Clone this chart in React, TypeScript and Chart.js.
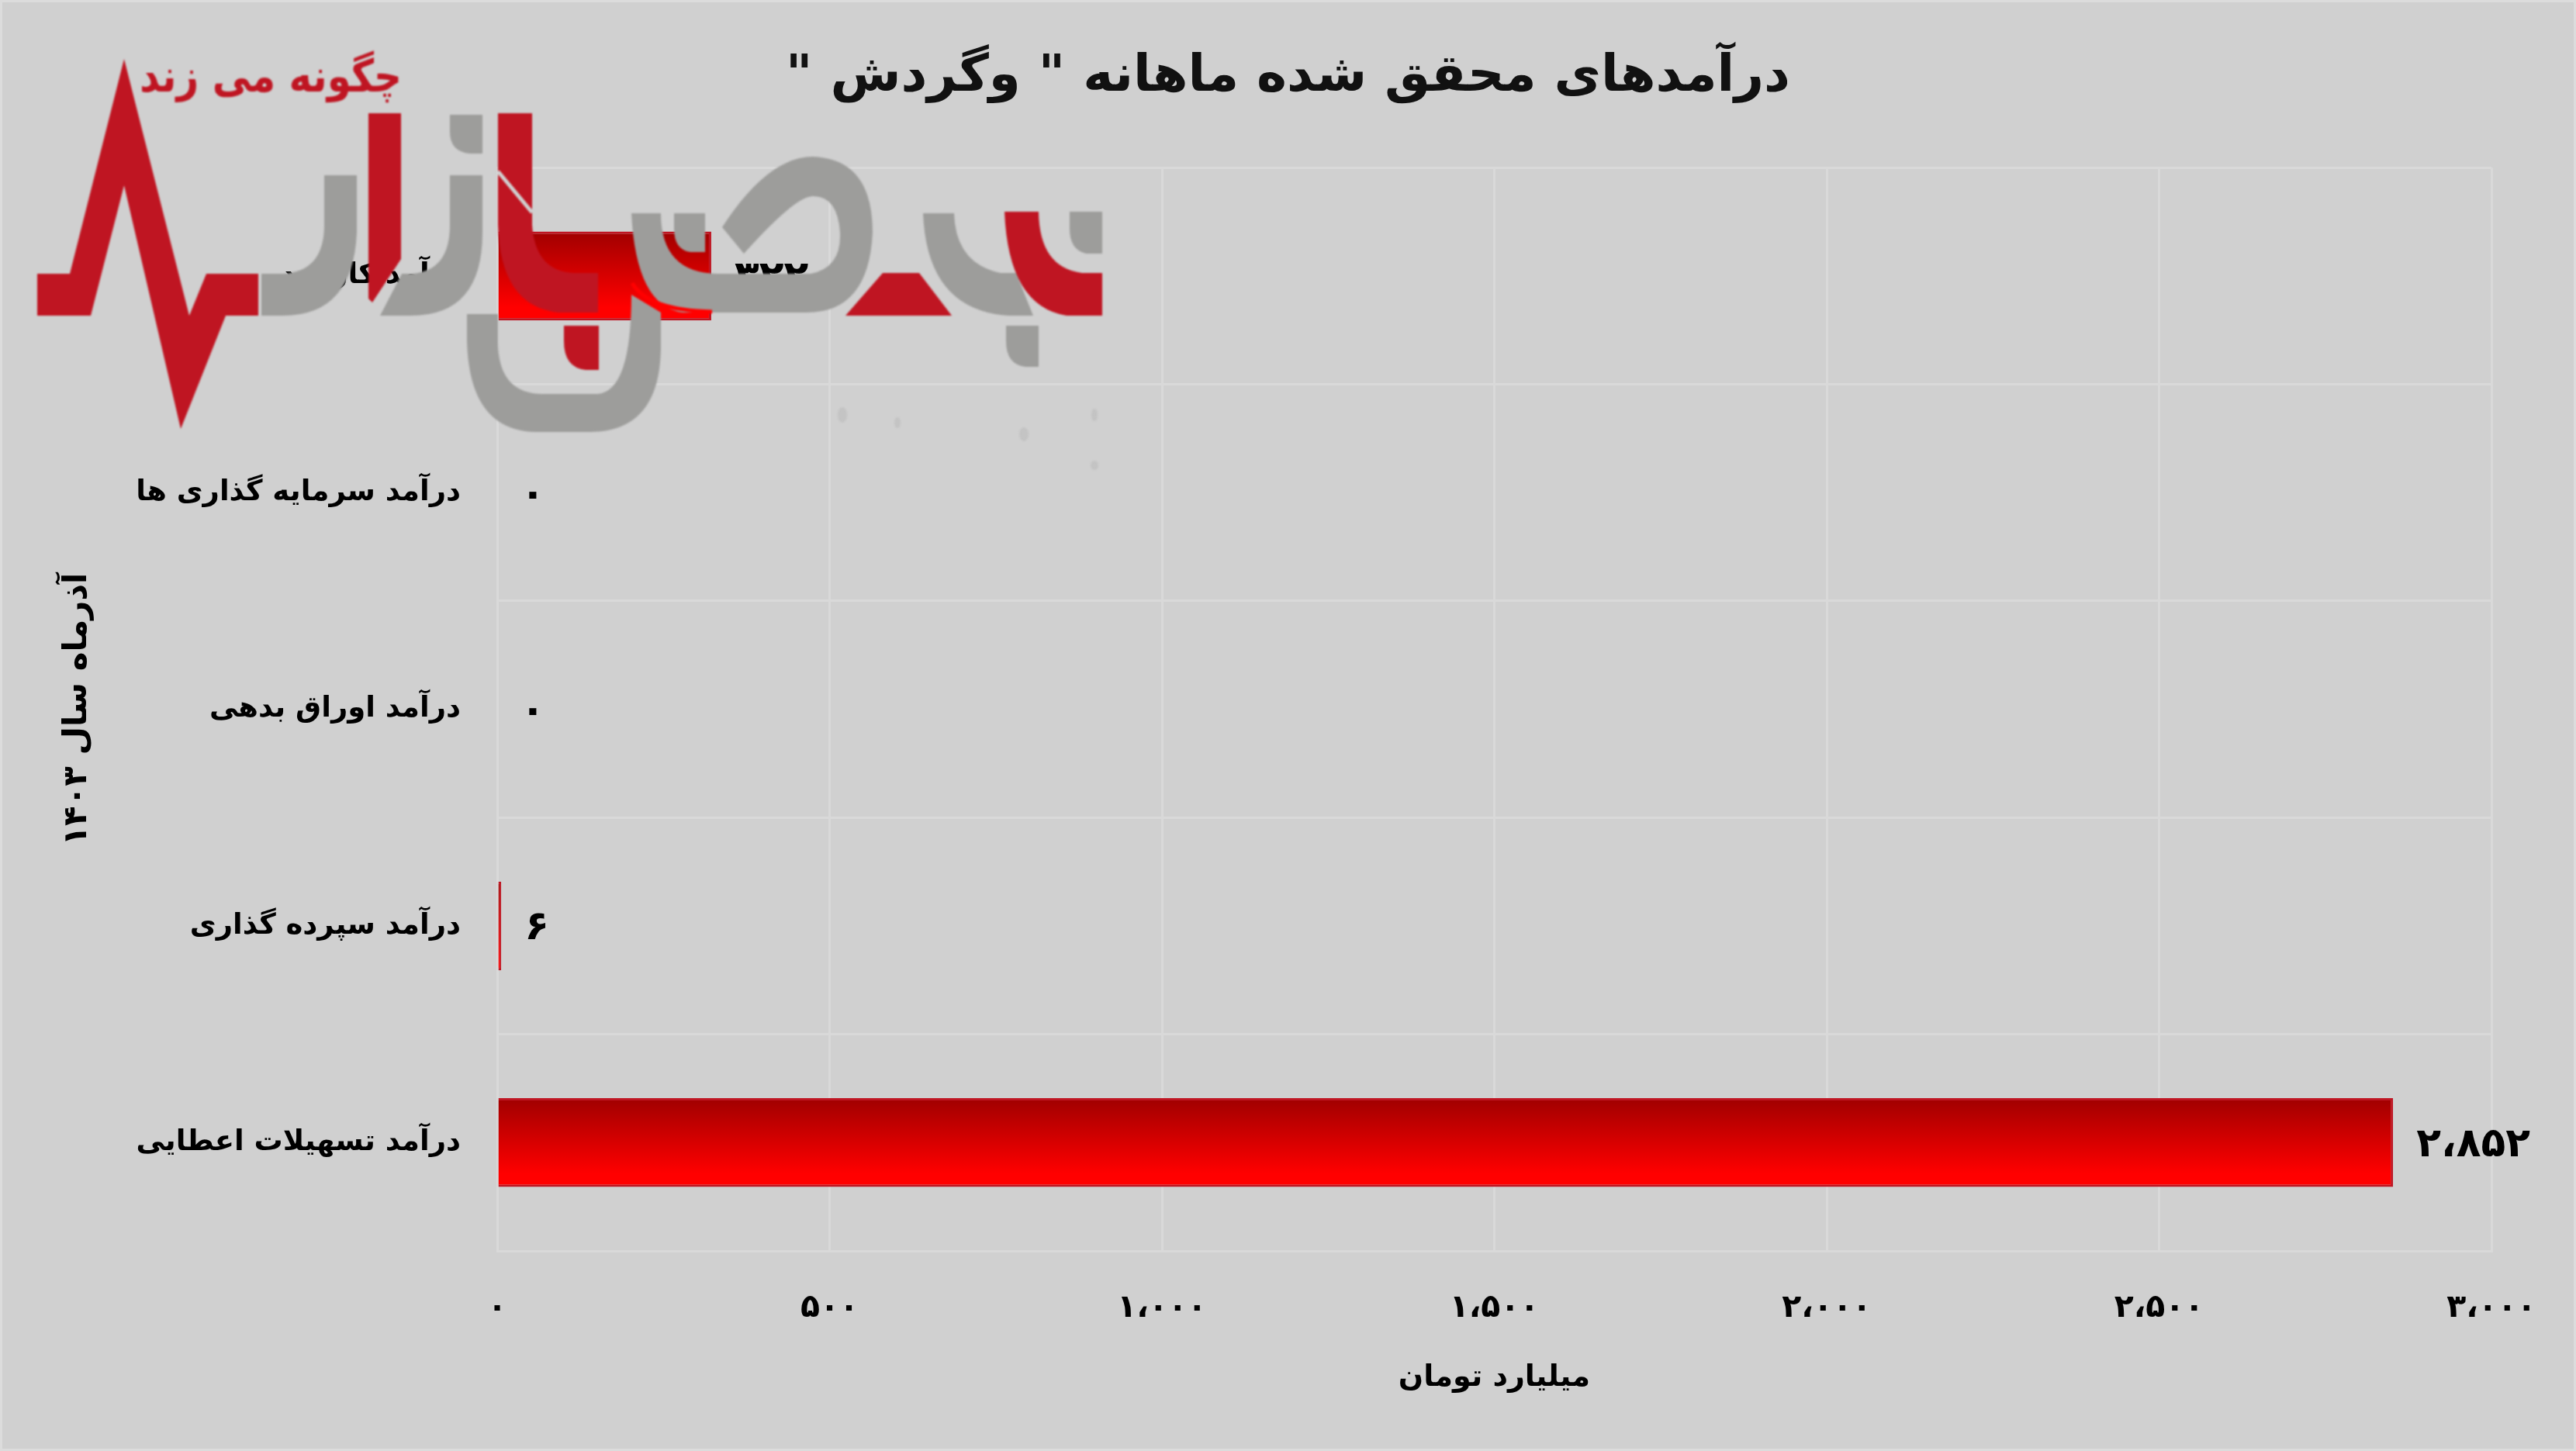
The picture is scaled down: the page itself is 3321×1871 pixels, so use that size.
import React, { useEffect, useRef } from "react";
import { Chart, registerables } from "chart.js";

Chart.register(...registerables);

const WIDTH = 3321;
const HEIGHT = 1871;
const chartTitle = 'درآمدهای محقق شده ماهانه " وگردش "';
const yAxisTitle = "آذرماه سال ۱۴۰۳";
const xAxisTitle = "میلیارد تومان";
const categories = [
  "درآمد کارمزد",
  "درآمد سرمایه گذاری ها",
  "درآمد اوراق بدهی",
  "درآمد سپرده گذاری",
  "درآمد تسهیلات اعطایی",
];
const values = [322, 0, 0, 6, 2852];
const valueLabels = ["۳۲۲", "۰", "۰", "۶", "۲،۸۵۲"];
const xTickLabels = ["۰", "۵۰۰", "۱،۰۰۰", "۱،۵۰۰", "۲،۰۰۰", "۲،۵۰۰", "۳،۰۰۰"];

const FONT = '"DejaVu Sans"';
const GRID = "#d9d9d9";
const CRIMSON = "#bf1522";
const GRAY = "#9d9d9b";

const valueLabelPlugin = {
  id: "valueLabels",
  afterDatasetsDraw(chart: any) {
    const { ctx } = chart;
    const meta = chart.getDatasetMeta(0);
    ctx.save();
    ctx.font = `bold 52px ${FONT}`;
    ctx.fillStyle = "#000";
    ctx.textAlign = "left";
    ctx.textBaseline = "middle";
    meta.data.forEach((bar: any, i: number) => {
      ctx.fillText(valueLabels[i], bar.x + 30, bar.y + 4);
    });
    ctx.restore();
  },
};

function Watermark() {
  return (
    <svg
      width={WIDTH}
      height={HEIGHT}
      style={{ position: "absolute", left: 0, top: 0, pointerEvents: "none", filter: "blur(1px)" }}
    >
      <g fill={GRAY}>
        <path d="M337,353 L365,353 Q418,350 418,290 L418,226 L460,226 L460,300 Q455,407 365,407 L337,407 Z" />
        <path d="M490,407 L518,353 L530,353 Q580,350 580,290 L580,226 L622,226 L622,300 Q622,407 530,407 Z" />
        <path d="M580,148 L622,148 L622,198 L605,198 Q580,195 580,170 Z" />
        <path d="M814,275 L852,275 Q852,352 925,353 L1045,353 Q1085,345 1083,300 Q1080,253 1048,253 Q1025,253 959,327 L931,293 Q990,202 1048,202 Q1125,205 1125,300 Q1120,403 1040,403 L880,403 Q820,395 814,275 Z" />
        <path d="M869,275 L909,275 L909,325 L890,325 Q869,322 869,295 Z" />
        <path d="M602,405 L642,405 L642,440 Q642,508 700,508 L770,508 Q814,505 814,380 L852,403 L852,450 Q850,557 760,557 L690,557 Q605,555 602,440 Z" />
        <path d="M1190,275 L1230,275 Q1232,340 1290,352 L1310,352 L1332,407 L1300,407 Q1195,400 1190,275 Z" />
        <path d="M1379,273 L1421,273 L1421,327 L1400,327 Q1379,322 1379,295 Z" />
        <path d="M1297,420 L1339,420 L1339,473 L1322,473 Q1297,470 1297,440 Z" />
      </g>
      <path d="M815,365 Q835,400 918,402" fill="none" stroke="#f00" strokeWidth="5" />
      <g fill={CRIMSON}>
        <path d="M48,353 L90,353 L160,76 L244,407 L266,353 L333,353 L333,407 L291,407 L233,553 L160,239 L117,407 L48,407 Z" />
        <path d="M475,146 L517,146 L517,334 L480,390 L475,385 Z" />
        <path d="M642,146 L686,146 L686,290 Q690,350 740,352 L771,352 L771,403 L720,403 Q645,395 642,290 Z" />
        <path d="M1138,352 L1185,352 L1227,407 L1090,407 Z" />
        <path d="M1295,273 L1339,273 Q1340,345 1395,352 L1421,352 L1421,407 L1375,407 Q1300,395 1295,273 Z" />
        <path d="M727,420 L772,420 L772,477 L755,477 Q727,474 727,440 Z" />
      </g>
      <line x1="642" y1="221" x2="686" y2="274" stroke="#d0d0d0" strokeWidth="5" />
      <g fill="#b8b8b8" opacity="0.5">
        <ellipse cx="1086" cy="535" rx="6" ry="10" />
        <ellipse cx="1157" cy="545" rx="4" ry="7" />
        <ellipse cx="1320" cy="560" rx="6" ry="9" />
        <ellipse cx="1411" cy="535" rx="4" ry="8" />
        <ellipse cx="1411" cy="600" rx="5" ry="6" />
      </g>
      <text
        x="518"
        y="118"
        direction="rtl"
        textAnchor="start"
        fontFamily={FONT}
        fontWeight="bold"
        fontSize="58"
        fill={CRIMSON}
        textLength="338"
        lengthAdjust="spacingAndGlyphs"
      >
        چگونه می زند
      </text>
    </svg>
  );
}

export default function App() {
  const ref = useRef<HTMLCanvasElement>(null);
  useEffect(() => {
    document.body.style.margin = "0";
    const chart = new Chart(ref.current as HTMLCanvasElement, {
      type: "bar",
      data: {
        labels: categories,
        datasets: [
          {
            data: values,
            categoryPercentage: 0.41,
            barPercentage: 1,
            borderWidth: 3,
            borderColor: CRIMSON,
            backgroundColor: (c: any) => {
              const { chart: ch, dataIndex } = c;
              const y = ch.scales?.y;
              if (!y || dataIndex === undefined) return "#f00";
              const center = y.getPixelForValue(dataIndex);
              const half = (y.height / categories.length) * 0.205;
              if (!Number.isFinite(center) || !Number.isFinite(half)) return "#f00";
              const g = ch.ctx.createLinearGradient(0, center - half, 0, center + half);
              g.addColorStop(0, "#a00000");
              g.addColorStop(0.85, "#ff0000");
              g.addColorStop(1, "#ff0000");
              return g;
            },
          },
        ],
      },
      options: {
        indexAxis: "y",
        responsive: false,
        animation: false,
        devicePixelRatio: 1,
        layout: { padding: { left: 109, right: 109, top: 60, bottom: 0 } },
        plugins: {
          legend: { display: false },
          tooltip: { enabled: false },
          title: {
            display: true,
            text: chartTitle,
            color: "#111",
            font: { family: FONT, size: 66, weight: "bold" },
            padding: { top: 0, bottom: 77 },
          },
        },
        scales: {
          x: {
            min: 0,
            max: 3000,
            ticks: {
              stepSize: 500,
              maxRotation: 0,
              padding: 50,
              color: "#000",
              font: { family: FONT, size: 41, weight: "bold" },
              callback: (_v: any, i: number) => xTickLabels[i],
            },
            grid: { color: GRID, lineWidth: 3, drawTicks: false },
            border: { color: GRID, width: 3 },
            title: {
              display: true,
              text: xAxisTitle,
              color: "#000",
              font: { family: FONT, size: 38, weight: "bold" },
              padding: { top: 0, bottom: 71 },
            },
            afterFit: (s: any) => {
              s.height = HEIGHT - 1613;
            },
          },
          y: {
            ticks: {
              padding: 47,
              color: "#000",
              font: { family: FONT, size: 37, weight: "bold" },
            },
            grid: { color: GRID, lineWidth: 3, drawTicks: false },
            border: { color: GRID, width: 3 },
            title: {
              display: true,
              text: yAxisTitle,
              color: "#000",
              font: { family: FONT, size: 42, weight: "bold" },
              padding: { top: -34, bottom: 0 },
            },
            afterFit: (s: any) => {
              s.width = 641 - 109;
            },
          },
        },
      },
      plugins: [valueLabelPlugin],
    } as any);
    return () => chart.destroy();
  }, []);
  return (
    <div
      style={{
        position: "fixed",
        left: 0,
        top: 0,
        width: WIDTH,
        height: HEIGHT,
        background: "#d0d0d0",
        overflow: "hidden",
      }}
    >
      <canvas ref={ref} dir="rtl" width={WIDTH} height={HEIGHT} style={{ display: "block", direction: "rtl" }} />
      <Watermark />
      <div
        style={{
          position: "absolute",
          inset: 0,
          border: "3px solid #dcdcdc",
          boxSizing: "border-box",
          pointerEvents: "none",
        }}
      />
    </div>
  );
}
